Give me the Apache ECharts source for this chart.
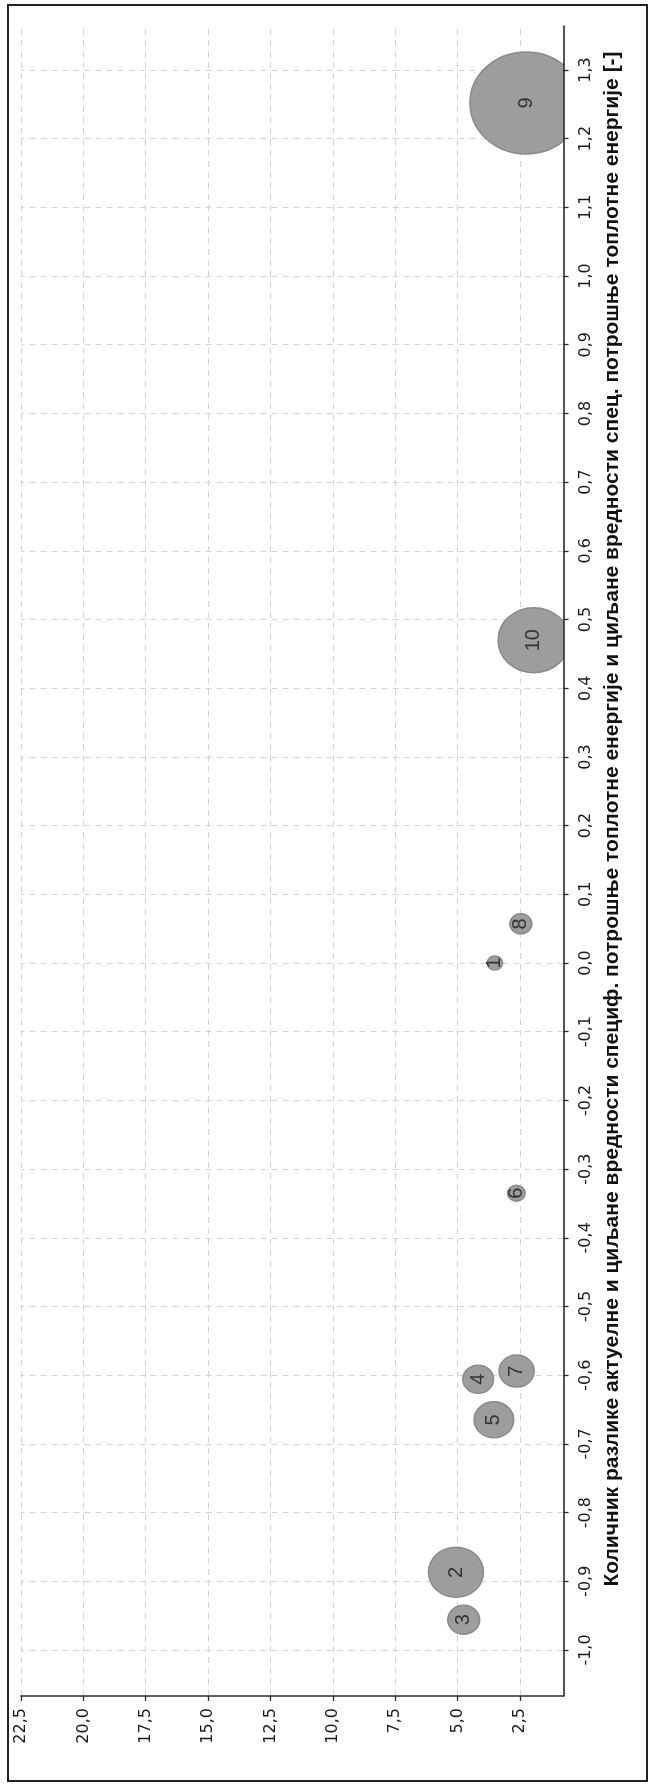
<!DOCTYPE html>
<html><head><meta charset="utf-8">
<script src="https://cdn.jsdelivr.net/npm/echarts@6/dist/echarts.min.js"></script>
<style>
html,body{margin:0;padding:0;background:#fff}
#chart{width:651px;height:1787px;position:absolute;left:0;top:0}
#frame{position:absolute;left:7px;top:4px;width:637px;height:1774px;border:2px solid #222;pointer-events:none}
</style></head><body>
<div id="chart"></div><div id="frame"></div>
<script>
// Bubble labels
const pointLabels = ['1', '2', '3', '4', '5', '6', '7', '8', '9', '10'];
// Количник разлике ... [-]  (axis drawn vertically on the right)
const ratioValues = [0.0, -0.887, -0.956, -0.606, -0.665, -0.335, -0.594, 0.057, 1.252, 0.470];
// Second measure (axis drawn along the bottom, decreasing to the right)
const secondValues = [3.5, 5.06, 4.75, 4.17, 3.54, 2.64, 2.63, 2.46, 2.25, 1.94];
// Bubble size values
const bubbleValues = [14, 50, 29, 28, 36, 16, 32, 20, 102, 65];
// Tick values
const ratioTicks = [-1.0, -0.9, -0.8, -0.7, -0.6, -0.5, -0.4, -0.3, -0.2, -0.1, 0.0, 0.1, 0.2, 0.3, 0.4, 0.5, 0.6, 0.7, 0.8, 0.9, 1.0, 1.1, 1.2, 1.3];
const secondTicks = [2.5, 5.0, 7.5, 10.0, 12.5, 15.0, 17.5, 20.0, 22.5];
const axisTitle = 'Количник разлике актуелне и циљане вредности специф. потрошње топлотне енергије и циљане вредности спец. потрошње топлотне енергије [-]';

const fmt = v => Number(v).toFixed(1).replace('.', ',');
const data = secondValues.map((s, i) => [s, ratioValues[i], bubbleValues[i]]);
const widthFactor = 1.1;

const chart = echarts.init(document.getElementById('chart'), null, {renderer: 'canvas'});
chart.setOption({
  animation: false,
  backgroundColor: '#fff',
  grid: {left: 21, right: 87.5, top: 26, bottom: 91, containLabel: false},
  xAxis: {
    type: 'value', inverse: true, min: 0.75, max: 22.5, position: 'bottom', z: 5,
    axisLine: {show: true, onZero: false, lineStyle: {color: '#2a2a2a', width: 1.6}},
    axisTick: {show: true, length: 5, customValues: secondTicks, lineStyle: {color: '#2a2a2a', width: 1.3}},
    axisLabel: {show: true, customValues: secondTicks, rotate: 90, margin: 12, formatter: fmt,
      fontFamily: 'DejaVu Sans', fontSize: 16, color: '#1a1a1a'},
    splitLine: {show: false}
  },
  yAxis: {
    type: 'value', min: -1.067, max: 1.364, position: 'right', z: 5,
    name: axisTitle, nameLocation: 'middle', nameRotate: 90, nameGap: 36,
    nameTextStyle: {fontFamily: 'Liberation Sans', fontWeight: 'bold', fontSize: 21, color: '#111',
      padding: [0, 0, 0, 84]},
    axisLine: {show: true, onZero: false, lineStyle: {color: '#2a2a2a', width: 1.6}},
    axisTick: {show: true, length: 5, customValues: ratioTicks, lineStyle: {color: '#2a2a2a', width: 1.3}},
    axisLabel: {show: true, customValues: ratioTicks, rotate: 90, margin: 14, formatter: fmt,
      fontFamily: 'DejaVu Sans', fontSize: 16, color: '#1a1a1a'},
    splitLine: {show: false}
  },
  series: [
    {
      type: 'scatter', symbol: 'none', symbolSize: 0, data: data, silent: true, z: 1,
      markLine: {
        silent: true, symbol: 'none', z: 1, animation: false,
        label: {show: false},
        lineStyle: {color: '#d4d2d2', type: [6, 5], width: 1},
        emphasis: {disabled: true},
        data: secondTicks.map(v => ({xAxis: v})).concat(ratioTicks.map(v => ({yAxis: v})))
      }
    },
    {
      type: 'custom', clip: true, z: 2, data: data,
      renderItem: function (params, api) {
        const pt = api.coord([api.value(0), api.value(1)]);
        const d = api.value(2);
        return {
          type: 'group',
          children: [
            {type: 'ellipse', shape: {cx: pt[0], cy: pt[1], rx: d * widthFactor / 2, ry: d / 2},
              style: {fill: '#9d9d9d', stroke: '#8a8a8a', lineWidth: 1.5}},
            {type: 'text', x: pt[0], y: pt[1], rotation: Math.PI / 2,
              style: {text: pointLabels[params.dataIndex], fill: '#333', font: '20px "Liberation Sans"',
                align: 'center', verticalAlign: 'middle'}}
          ]
        };
      }
    }
  ]
});
</script>
</body></html>
